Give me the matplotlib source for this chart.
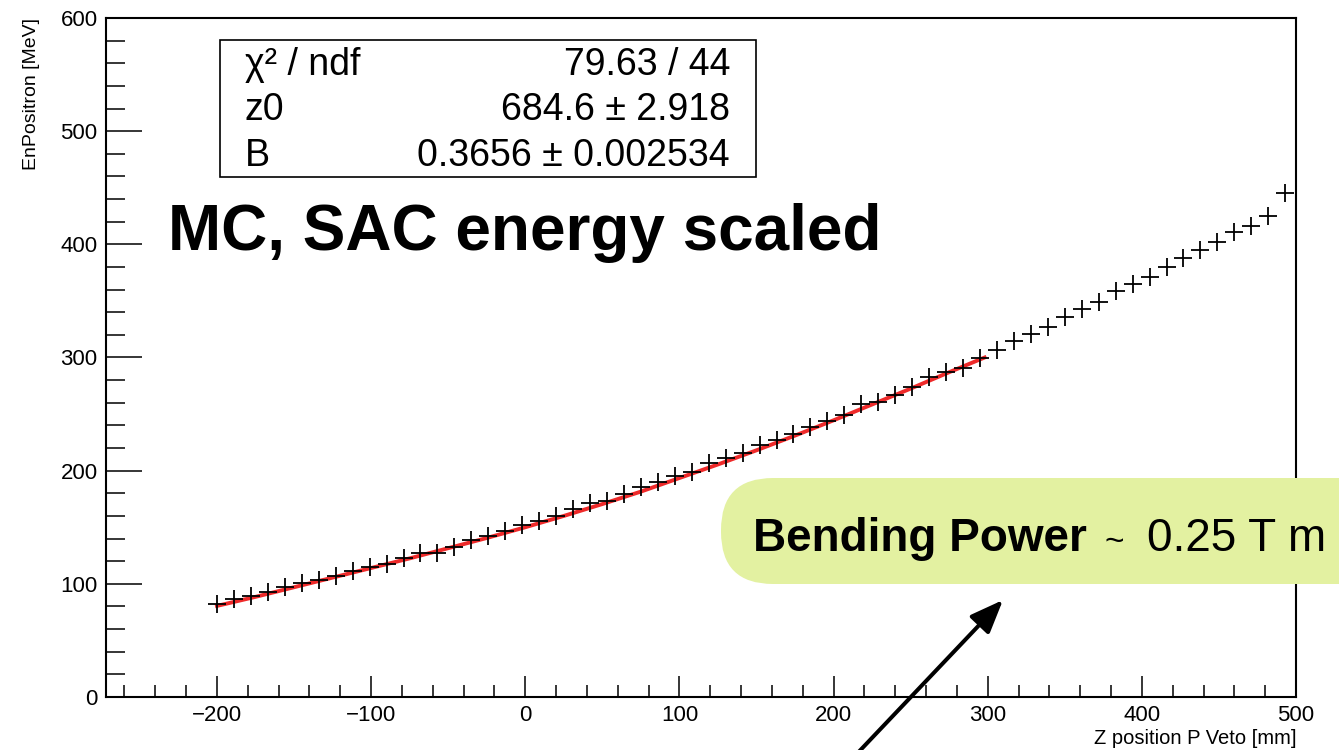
import matplotlib
matplotlib.use("Agg")
import matplotlib.pyplot as plt
from matplotlib.ticker import MultipleLocator
from matplotlib.patches import Rectangle, FancyBboxPatch, FancyArrowPatch
from matplotlib.transforms import IdentityTransform

plt.rcParams['font.family'] = ['Liberation Sans', 'DejaVu Sans']

# measured points (Z position in mm, positron energy in MeV)
z_pos = [-200, -189, -178, -167, -156, -145, -134, -123, -112, -101,
         -90, -79, -68, -57, -46, -35, -24, -13, -2, 9,
         20, 31, 42, 53, 64, 75, 86, 97, 108, 119,
         130, 141, 152, 163, 174, 185, 196, 207, 218, 229,
         240, 251, 262, 273, 284, 295, 306, 317, 328, 339,
         350, 361, 372, 383, 394, 405, 416, 427, 438, 449,
         460, 471, 482, 493]
energy = [82.2, 86.6, 89.5, 93.1, 96.9, 100.5, 103.4, 106.9, 111.6, 115.1,
          117.5, 122.5, 127.0, 127.5, 132.8, 138.7, 142.3, 146.9, 152.0, 155.8,
          160.3, 165.9, 171.2, 173.5, 179.4, 185.3, 190.2, 195.3, 199.1, 206.5,
          210.9, 215.3, 222.7, 227.1, 232.4, 238.8, 244.1, 249.2, 258.9, 260.9,
          267.0, 274.0, 283.0, 287.4, 290.4, 299.3, 306.6, 314.8, 320.8, 326.7,
          336.0, 342.6, 348.8, 359.0, 364.9, 371.4, 379.7, 387.6, 395.0, 402.3,
          410.6, 416.2, 425.0, 445.1]

# fitted curve
fit_z = [-200, -175, -150, -125, -100, -75, -50, -25, 0, 25, 50,
         75, 100, 125, 150, 175, 200, 225, 250, 275, 298]
fit_e = [80.5, 88.5, 97.0, 105.5, 114.0, 122.5, 131.5, 140.5, 150.0, 160.0, 170.5,
         181.5, 193.5, 205.5, 218.0, 231.0, 244.5, 258.5, 272.5, 287.0, 300.0]

stat_names = ["χ² / ndf", "z0", "B"]
stat_values = ["79.63 / 44", "684.6 ± 2.918", "0.3656 ± 0.002534"]

W, H = 1339, 750


def fx(x):
    return x / W


def fy(y):
    return 1 - y / H


fig = plt.figure(figsize=(W / 100, H / 100), dpi=100)
ax = fig.add_axes([fx(106), fy(697), fx(1296) - fx(106), fy(18) - fy(697)])

ax.plot(fit_z, fit_e, color='#ee2a2a', lw=2.8, zorder=2)
ax.plot(z_pos, energy, ls='none', marker='+', ms=12.5, mew=1.3, color='black', zorder=3)

ax.set_xlim(-272, 500)
ax.set_ylim(0, 600)
ax.xaxis.set_major_locator(MultipleLocator(100))
ax.xaxis.set_minor_locator(MultipleLocator(20))
ax.yaxis.set_major_locator(MultipleLocator(100))
ax.yaxis.set_minor_locator(MultipleLocator(20))
ax.tick_params(axis='x', which='major', direction='in', length=15, width=1.1, pad=6, labelsize=16)
ax.tick_params(axis='x', which='minor', direction='in', length=8.5, width=1.1)
ax.tick_params(axis='y', which='major', direction='in', length=26, width=1.1, pad=6, labelsize=16)
ax.tick_params(axis='y', which='minor', direction='in', length=13.5, width=1.1)
for s in ax.spines.values():
    s.set_linewidth(1.5)

fig.text(fx(32), fy(18), "EnPositron [MeV]", rotation=90, ha='center', va='top', fontsize=14)
fig.text(fx(1296), fy(738), "Z position P Veto [mm]", ha='right', va='center', fontsize=14.5)

# fit statistics box
fig.add_artist(Rectangle((fx(220), fy(177)), fx(756) - fx(220), fy(40) - fy(177),
                         transform=fig.transFigure, facecolor='white', edgecolor='black', lw=1.2))
for i, (name, val) in enumerate(zip(stat_names, stat_values)):
    yb = 75 + i * 45.5
    fig.text(fx(245), fy(yb), name, ha='left', va='baseline', fontsize=27)
    fig.text(fx(730), fy(yb), val, ha='right', va='baseline', fontsize=27)

fig.text(fx(168), fy(250), "MC, SAC energy scaled", ha='left', va='baseline',
         fontsize=46, fontweight='bold')

# annotation bubble, in output pixels
bubble = FancyBboxPatch((721, H - 584), 700, 106, boxstyle='round,pad=0,rounding_size=52',
                        transform=IdentityTransform(), facecolor='#e3f1a1', edgecolor='none')
fig.add_artist(bubble)
fig.text(fx(753), fy(551), "Bending Power", ha='left', va='baseline', fontsize=33, fontweight='bold')
fig.text(fx(1105), fy(551), "~", ha='left', va='baseline', fontsize=24)
fig.text(fx(1147), fy(551), "0.25 T m", ha='left', va='baseline', fontsize=33)

arrow = FancyArrowPatch((fx(851), fy(760)), (fx(1003), fy(600)), transform=fig.transFigure,
                        arrowstyle='-|>,head_length=0.45,head_width=0.18', mutation_scale=45,
                        lw=2.9, color='black', shrinkA=0, shrinkB=0)
fig.add_artist(arrow)

fig.savefig("out.png", dpi=100)
